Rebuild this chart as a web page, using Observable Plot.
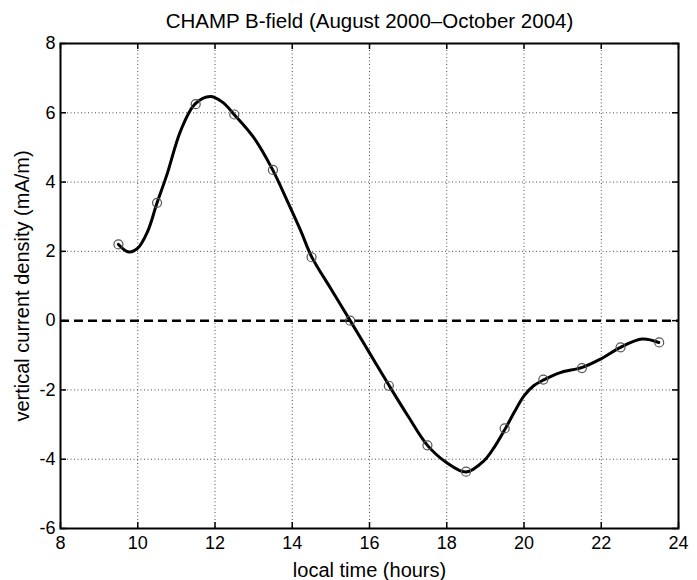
<!DOCTYPE html>
<html><head><meta charset="utf-8">
<script src="https://cdn.jsdelivr.net/npm/d3@7"></script>
<script src="https://cdn.jsdelivr.net/npm/@observablehq/plot@0.6"></script>
<style>body{margin:0;background:#fff}</style>
</head><body><div id="chart"></div>
<script>
const title = "CHAMP B-field (August 2000\u2013October 2004)";
const xLabel = "local time (hours)";
const yLabel = "vertical current density (mA/m)";
const xTicks = [8, 10, 12, 14, 16, 18, 20, 22, 24];
const yTicks = [-6, -4, -2, 0, 2, 4, 6, 8];

// measured points (circles)
const hours = [9.5, 10.5, 11.5, 12.5, 13.5, 14.5, 15.5, 16.5, 17.5, 18.5, 19.5, 20.5, 21.5, 22.5, 23.5];
const density = [2.2, 3.4, 6.25, 5.95, 4.35, 1.83, 0.0, -1.88, -3.6, -4.36, -3.11, -1.7, -1.37, -0.77, -0.63];

// smooth fitted curve
const fitHours = [9.5, 9.77, 10.0, 10.25, 10.5, 10.76, 11.11, 11.48, 11.88, 12.2, 12.49, 13.0, 13.48, 13.87, 14.21, 14.5, 15.0, 15.5, 16.0, 16.5, 17.0, 17.5, 18.0, 18.5, 18.96, 19.25, 19.52, 19.75, 20.0, 20.25, 20.51, 20.94, 21.51, 21.98, 22.5, 23.06, 23.49];
const fitDensity = [2.2, 1.98, 2.09, 2.56, 3.4, 4.23, 5.48, 6.25, 6.47, 6.3, 5.96, 5.29, 4.38, 3.46, 2.62, 1.85, 0.92, 0.0, -0.93, -1.86, -2.76, -3.6, -4.1, -4.37, -4.05, -3.62, -3.11, -2.64, -2.17, -1.88, -1.71, -1.5, -1.35, -1.11, -0.77, -0.53, -0.63];

const W = 697, H = 580, mt = 43, mb = 52, ml = 60, mr = 19;
const ph = H - mt - mb, pw = W - ml - mr;
const pts = hours.map((h, i) => ({h, v: density[i]}));
const fit = fitHours.map((h, i) => ({h, v: fitDensity[i]}));
const gridStyle = {stroke: "#000", strokeOpacity: 0.7, strokeDasharray: "1,2.5", strokeWidth: 1};
const tickStyle = {stroke: "#000", strokeWidth: 1.5};
const font = "'Liberation Sans', Arial, Helvetica, sans-serif";

const chart = Plot.plot({
  width: W, height: H,
  marginTop: mt, marginBottom: mb, marginLeft: ml, marginRight: mr,
  style: {fontFamily: font, fontSize: "18px", color: "#000", background: "#fff"},
  x: {domain: [xTicks[0], xTicks[xTicks.length - 1]]},
  y: {domain: [yTicks[0], yTicks[yTicks.length - 1]]},
  marks: [
    Plot.gridX(xTicks.slice(1, -1), gridStyle),
    Plot.gridY(yTicks.slice(1, -1).filter(t => t !== 0), gridStyle),
    Plot.ruleY([0], {stroke: "#000", strokeWidth: 2.5, strokeDasharray: "9,5"}),
    Plot.line(fit, {x: "h", y: "v", curve: "catmull-rom", stroke: "#000", strokeWidth: 3}),
    Plot.dot(pts, {x: "h", y: "v", r: 4.5, stroke: "#555", strokeWidth: 1.2, fill: "none"}),
    Plot.frame({stroke: "#000", strokeWidth: 2}),
    Plot.ruleX(xTicks, {...tickStyle, insetTop: ph - 6}),
    Plot.ruleX(xTicks, {...tickStyle, insetBottom: ph - 6}),
    Plot.ruleY(yTicks, {...tickStyle, insetRight: pw - 6}),
    Plot.ruleY(yTicks, {...tickStyle, insetLeft: pw - 6}),
    Plot.axisX(xTicks, {tickSize: 0, tickPadding: 8, label: null, fontSize: 18, fill: "#000", tickFormat: d => String(d)}),
    Plot.axisY(yTicks, {tickSize: 0, tickPadding: 5, label: null, fontSize: 18, fill: "#000", tickFormat: d => String(d)}),
    Plot.text([xLabel], {frameAnchor: "bottom", dy: 48, lineAnchor: "bottom", fontSize: 20, fill: "#000"}),
    Plot.text([yLabel], {frameAnchor: "left", dx: -38, rotate: -90, textAnchor: "middle", lineAnchor: "middle", fontSize: 20, fill: "#000"}),
    Plot.text([title], {frameAnchor: "top", dy: -16, lineAnchor: "bottom", fontSize: 20.5, fill: "#000"})
  ]
});
document.getElementById("chart").appendChild(chart);
</script>
</body></html>
